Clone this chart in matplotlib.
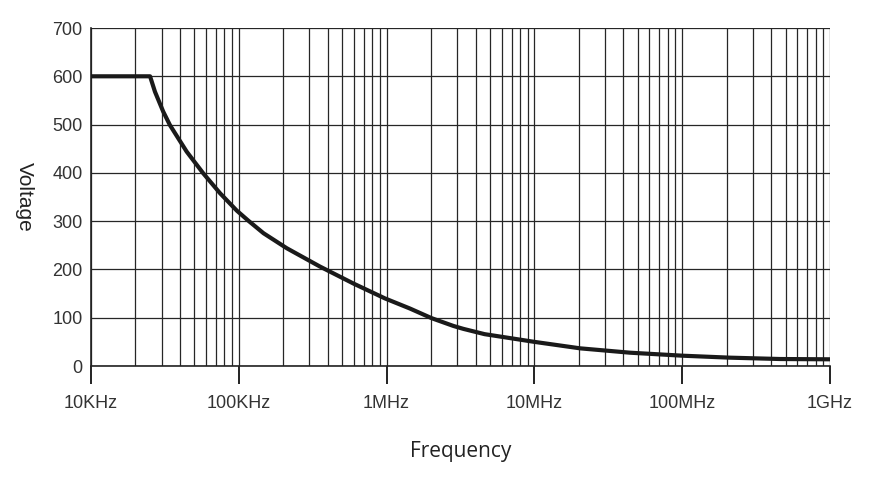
import numpy as np
import matplotlib.pyplot as plt
from matplotlib.ticker import FixedLocator

# Curve (Hz, volts)
freq = [1.0e4, 2.51e4, 2.71e4, 3.08e4, 3.42e4, 4.44e4, 5.75e4, 7.46e4, 9.68e4,
        1.16e5, 1.47e5, 2.11e5, 3.54e5, 5.95e5, 9.75e5, 1.44e6, 2.02e6, 2.83e6,
        3.3e6, 4.6e6, 1.0e7, 2.04e7, 4.43e7, 1.0e8, 2.1e8, 4.6e8, 1.0e9]
volt = [600, 600, 568, 527, 499, 444, 399, 358, 322,
        301, 275, 244, 206, 171, 140, 119, 99, 83,
        77, 66, 50, 36.6, 27.6, 21.4, 17.3, 14.5, 13.9]

tick_pos = [1e4, 1e5, 1e6, 1e7, 1e8, 1e9]
tick_lab = ['10KHz', '100KHz', '1MHz', '10MHz', '100MHz', '1GHz']
y_ticks = [0, 100, 200, 300, 400, 500, 600, 700]

fig = plt.figure(figsize=(8.79, 4.83), dpi=100)
ax = fig.add_axes([0.1035, 0.2422, 0.8408, 0.6998])

ax.set_xscale('log')
ax.set_xlim(1e4, 1e9)
ax.set_ylim(0, 700)

# grid at every minor decade step
minor = [m * 10.0**e for e in range(4, 9) for m in range(2, 10)]
for f in minor + tick_pos:
    ax.axvline(f, color='#262626', lw=0.9, zorder=1)
for v in y_ticks:
    ax.axhline(v, color='#262626', lw=0.9, zorder=1)

ax.plot(freq, volt, color='#1a1a1a', lw=3.0, zorder=3,
        solid_joinstyle='round', solid_capstyle='butt')

ax.xaxis.set_major_locator(FixedLocator(tick_pos))
ax.xaxis.set_minor_locator(FixedLocator([]))
ax.set_xticks(tick_pos)
ax.set_xticklabels(tick_lab)
ax.set_yticks(y_ticks)

for s in ['top', 'right']:
    ax.spines[s].set_visible(False)
for s in ['left', 'bottom']:
    ax.spines[s].set_color('#222222')
    ax.spines[s].set_linewidth(1.2)

ax.tick_params(axis='x', direction='out', length=13, width=1.4, color='#222222',
               pad=8, labelsize=13, labelcolor='#333333')
ax.tick_params(axis='y', length=0, pad=6, labelsize=13, labelcolor='#333333')
for lab in ax.get_xticklabels() + ax.get_yticklabels():
    lab.set_family('Liberation Sans')

ax.set_ylabel('Voltage', rotation=270, fontsize=15, color='#222222',
             family='Liberation Sans', va='center')
ax.yaxis.set_label_coords(-0.09, 0.5)
ax.set_xlabel('Frequency', fontsize=15, color='#222222', family='Open Sans',
              labelpad=21)

fig.savefig('out.png', dpi=100)
